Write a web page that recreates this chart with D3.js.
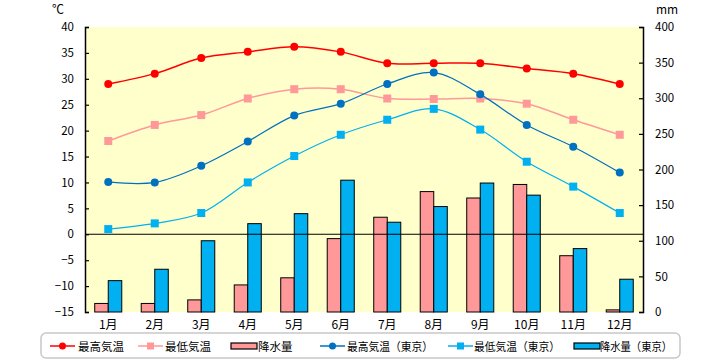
<!DOCTYPE html>
<html><head><meta charset="utf-8">
<script src="https://cdn.jsdelivr.net/npm/d3@7"></script>
<style>
body{margin:0;background:#fff;}
text{font-family:"Noto Sans CJK JP","Noto Sans",sans-serif;}
</style></head>
<body>
<svg id="chart" width="720" height="360"></svg>
<script>
const months = ["1月","2月","3月","4月","5月","6月","7月","8月","9月","10月","11月","12月"];
const maxTemp = [29, 31, 34, 35.2, 36.2, 35.2, 33, 33, 33, 32, 31, 29];
const minTemp = [18, 21.1, 23, 26.2, 28, 28, 26.2, 26.1, 26.2, 25.2, 22.1, 19.2];
const precip = [12, 12, 17, 38, 48, 103, 133, 169, 160, 179, 79, 3];
const maxTempTokyo = [10.1, 10, 13.2, 17.9, 22.9, 25.2, 29, 31.2, 27, 21.1, 16.9, 11.9];
const minTempTokyo = [1, 2.1, 4.1, 10, 15.1, 19.2, 22.1, 24.2, 20.2, 14, 9.2, 4.1];
const precipTokyo = [44, 60, 100, 124, 138, 185, 126, 148, 181, 164, 89, 46];
const tempTicks = [-15,-10,-5,0,5,10,15,20,25,30,35,40];
const precipTicks = [0,50,100,150,200,250,300,350,400];
const legendLabels = ["最高気温","最低気温","降水量","最高気温（東京）","最低気温（東京）","降水量（東京）"];

const svg = d3.select("#chart");
const L = 85, R = 643, T = 27, B = 312;

const x = d3.scaleBand().domain(months).range([L, R]);
const yT = d3.scaleLinear().domain([-15, 40]).range([B, T]);
const yP = d3.scaleLinear().domain([0, 400]).range([B, T]);
const xSub = d3.scaleBand().domain(["a","b"]).range([0, x.bandwidth()]).paddingOuter(0.72);

// plot background
svg.append("rect").attr("x", L).attr("y", T).attr("width", R - L).attr("height", B - T).attr("fill", "#FFFFCC");

// bars
const barG = svg.append("g");
barG.selectAll(".p1").data(precip).join("rect")
  .attr("x", (d,i) => x(months[i]) + xSub("a"))
  .attr("y", d => yP(d)).attr("width", xSub.bandwidth()).attr("height", d => yP(0) - yP(d))
  .attr("fill", "#FF9999").attr("stroke", "#000").attr("stroke-width", 1);
barG.selectAll(".p2").data(precipTokyo).join("rect")
  .attr("x", (d,i) => x(months[i]) + xSub("b"))
  .attr("y", d => yP(d)).attr("width", xSub.bandwidth()).attr("height", d => yP(0) - yP(d))
  .attr("fill", "#00B0F0").attr("stroke", "#000").attr("stroke-width", 1);

// zero line (category axis)
svg.append("line").attr("x1", L).attr("x2", R).attr("y1", yT(0)).attr("y2", yT(0))
  .attr("stroke", "#000").attr("stroke-width", 1.2);

// axes
const leftAxis = d3.axisLeft(yT).tickValues(tempTicks).tickSize(-4).tickPadding(11);
const gl = svg.append("g").attr("transform", `translate(${L},0)`).call(leftAxis);
const rightAxis = d3.axisRight(yP).tickValues(precipTicks).tickSize(-4).tickPadding(12);
const gr = svg.append("g").attr("transform", `translate(${R},0)`).call(rightAxis);
[gl, gr].forEach(g => {
  g.select(".domain").attr("stroke", "#000").attr("stroke-width", 1.5);
  g.selectAll(".tick line").attr("stroke", "#000").attr("stroke-width", 1.2);
  g.selectAll(".tick text").attr("font-size", 11.5).attr("fill", "#000")
    .style("font-family", '"Noto Sans CJK JP", sans-serif');
});

// x labels
svg.append("g").selectAll("text").data(months).join("text")
  .attr("x", d => x(d) + x.bandwidth() / 2).attr("y", 329)
  .attr("text-anchor", "middle").attr("font-size", 12).attr("fill", "#000").text(d => d);

// unit labels
svg.append("text").attr("x", 58).attr("y", 14).attr("text-anchor", "middle").attr("font-size", 12).text("℃");
svg.append("text").attr("x", 667).attr("y", 14).attr("text-anchor", "middle").attr("font-size", 12).text("mm");

// lines
const cx = i => x(months[i]) + x.bandwidth() / 2;
const line = (ys) => d3.line().x((d,i) => cx(i)).y(d => ys(d)).curve(d3.curveCatmullRom.alpha(0.5));
const series = [
  {data: maxTemp, color: "#FF0000", marker: "circle", w: 1.5},
  {data: minTemp, color: "#FF9999", marker: "square", w: 1.5},
  {data: maxTempTokyo, color: "#0070C0", marker: "circle", w: 1.2},
  {data: minTempTokyo, color: "#00B0F0", marker: "square", w: 1.2}
];
series.forEach(s => {
  svg.append("path").datum(s.data).attr("d", line(yT)).attr("fill", "none")
    .attr("stroke", s.color).attr("stroke-width", s.w);
  if (s.marker === "circle") {
    svg.append("g").selectAll("circle").data(s.data).join("circle")
      .attr("cx", (d,i) => cx(i)).attr("cy", d => yT(d)).attr("r", 4).attr("fill", s.color);
  } else {
    svg.append("g").selectAll("rect").data(s.data).join("rect")
      .attr("x", (d,i) => cx(i) - 4).attr("y", d => yT(d) - 4).attr("width", 8).attr("height", 8).attr("fill", s.color);
  }
});

// legend
const lg = svg.append("g");
lg.append("rect").attr("x", 41).attr("y", 333).attr("width", 639).attr("height", 25).attr("rx", 5)
  .attr("fill", "#fff").attr("stroke", "#C8C8C8").attr("stroke-width", 1.5);
const legendItems = [
  {x: 50, type: "line", color: "#FF0000", marker: "circle", tx: 78},
  {x: 138, type: "line", color: "#FF9999", marker: "square", tx: 165},
  {x: 231, type: "bar", color: "#FF9999", tx: 258},
  {x: 320, type: "line", color: "#0070C0", marker: "circle", tx: 347},
  {x: 448, type: "line", color: "#00B0F0", marker: "square", tx: 474},
  {x: 574, type: "bar", color: "#00B0F0", tx: 600}
];
const ly = 346;
legendItems.forEach((it, i) => {
  if (it.type === "line") {
    lg.append("line").attr("x1", it.x).attr("x2", it.x + 25).attr("y1", ly).attr("y2", ly)
      .attr("stroke", it.color).attr("stroke-width", 1.5);
    if (it.marker === "circle") lg.append("circle").attr("cx", it.x + 12.5).attr("cy", ly).attr("r", 3.5).attr("fill", it.color);
    else lg.append("rect").attr("x", it.x + 9).attr("y", ly - 3.5).attr("width", 7).attr("height", 7).attr("fill", it.color);
  } else {
    lg.append("rect").attr("x", it.x).attr("y", ly - 3).attr("width", 26).attr("height", 6)
      .attr("fill", it.color).attr("stroke", "#000").attr("stroke-width", 1.2);
  }
  lg.append("text").attr("x", it.tx).attr("y", ly + 4.5).attr("font-size", 11.5).attr("fill", "#000")
    .attr("textLength", i >= 3 ? (i === 5 ? 72 : 86) : null)
    .attr("lengthAdjust", "spacingAndGlyphs")
    .text(legendLabels[i]);
});
</script>
</body></html>
